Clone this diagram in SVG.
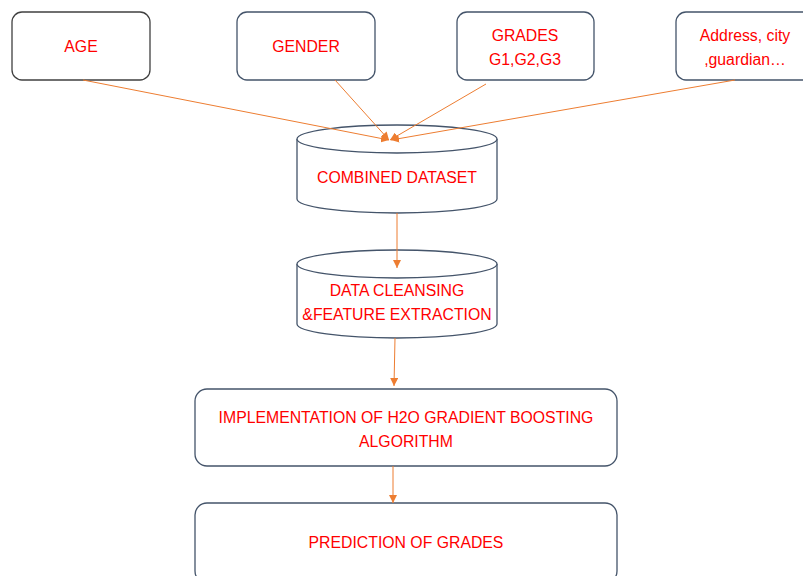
<svg xmlns="http://www.w3.org/2000/svg" width="803" height="576" viewBox="0 0 803 576">
<style>
.box{fill:#fff;stroke:#44546A;stroke-width:1.3}
.cyl{fill:#fff;stroke:#44546A;stroke-width:1.3}
.t{font-family:"Liberation Sans",Arial,sans-serif;font-size:15.8px;fill:#FF0000;text-anchor:middle;dominant-baseline:central}
.c{stroke:#ED7D31;stroke-width:1;fill:none}
</style>
<defs>
<marker id="ah" viewBox="0 0 10 10" refX="10" refY="5" markerWidth="8" markerHeight="8" markerUnits="userSpaceOnUse" orient="auto">
<path d="M0,0 L10,5 L0,10 z" fill="#ED7D31"/>
</marker>
</defs>
<g id="age">
<rect class="box" x="12" y="12" width="138" height="68" rx="10" style="stroke:#404040"/>
<text class="t" x="81" y="46">AGE</text>
</g>
<g id="gender">
<rect class="box" x="237" y="12" width="138" height="68" rx="10"/>
<text class="t" x="306" y="46">GENDER</text>
</g>
<g id="grades">
<rect class="box" x="457" y="12" width="137" height="68" rx="10"/>
<text class="t" x="525" y="35">GRADES</text>
<text class="t" x="525" y="59">G1,G2,G3</text>
</g>
<g id="address">
<rect class="box" x="676" y="12" width="140" height="68" rx="10"/>
<text class="t" x="745" y="35">Address, city</text>
<text class="t" x="745" y="59">,guardian…</text>
</g>
<g id="combined">
<path class="cyl" d="M297,139 L297,199 A100,14 0 0 0 497,199 L497,139"/>
<ellipse class="cyl" cx="397" cy="139" rx="100" ry="14"/>
<text class="t" x="397" y="177">COMBINED DATASET</text>
</g>
<g id="cleansing">
<path class="cyl" d="M297,264 L297,324 A100,14 0 0 0 497,324 L497,264"/>
<ellipse class="cyl" cx="397" cy="264" rx="100" ry="14"/>
<text class="t" x="397" y="290">DATA CLEANSING</text>
<text class="t" x="397" y="314">&amp;FEATURE EXTRACTION</text>
</g>
<g id="implementation">
<rect class="box" x="195" y="389" width="422" height="77" rx="12"/>
<text class="t" x="406" y="417">IMPLEMENTATION OF H2O GRADIENT BOOSTING</text>
<text class="t" x="406" y="441">ALGORITHM</text>
</g>
<g id="prediction">
<rect class="box" x="195" y="503" width="422" height="80" rx="12"/>
<text class="t" x="406" y="542">PREDICTION OF GRADES</text>
</g>
<g id="connectors">
<line class="c" x1="83" y1="80" x2="389" y2="140" marker-end="url(#ah)"/>
<line class="c" x1="335" y1="80" x2="389" y2="140" marker-end="url(#ah)"/>
<line class="c" x1="486" y1="84" x2="390" y2="140" marker-end="url(#ah)"/>
<line class="c" x1="735" y1="80" x2="391" y2="140" marker-end="url(#ah)"/>
<line class="c" x1="397" y1="213" x2="397" y2="268" marker-end="url(#ah)"/>
<line class="c" x1="395" y1="338" x2="394" y2="386" marker-end="url(#ah)"/>
<line class="c" x1="393" y1="466" x2="393" y2="503" marker-end="url(#ah)"/>
</g>
</svg>
